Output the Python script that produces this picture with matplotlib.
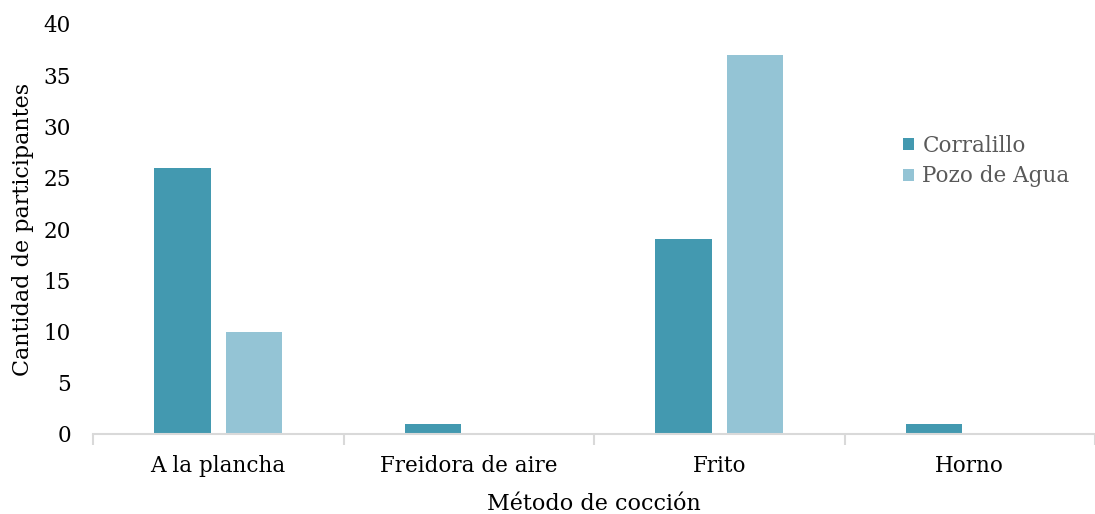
import matplotlib.pyplot as plt
import numpy as np
from matplotlib.patches import Patch

# =============================================================================
# DATA
# =============================================================================
metodos = ['A la plancha', 'Freidora de aire', 'Frito', 'Horno']
series = ['Corralillo', 'Pozo de Agua']
corralillo = [26, 1, 19, 1]
pozo_agua = [10, 0, 37, 0]
y_ticks = [0, 5, 10, 15, 20, 25, 30, 35, 40]

# =============================================================================
# STYLE
# =============================================================================
DARK = '#4399B0'
LIGHT = '#94C4D5'
AXIS_GRAY = '#D9D9D9'
plt.rcParams['font.family'] = 'DejaVu Serif'

fig = plt.figure(figsize=(10.95, 5.14), dpi=100)
ax = fig.add_axes([93 / 1095, 1 - 434 / 514, 1002 / 1095, 410 / 514])

x = np.arange(len(metodos))
bar_w = 0.225
offset = 0.142

ax.bar(x - offset, corralillo, width=bar_w, color=DARK, label=series[0])
ax.bar(x + offset, pozo_agua, width=bar_w, color=LIGHT, label=series[1])

ax.set_xlim(-0.5, -0.5 + 1002 / 253.5)
ax.set_ylim(0, 40)
ax.set_yticks(y_ticks)
ax.tick_params(axis='y', length=0, labelsize=15.5, pad=16)

# category labels centered, ticks at category boundaries
ax.set_xticks(x)
ax.set_xticklabels(metodos, fontsize=15.5)
ax.tick_params(axis='x', which='major', length=0, pad=15)
ax.set_xticks(np.arange(len(metodos) + 1) - 0.5, minor=True)
ax.tick_params(axis='x', which='minor', length=8, width=1.5, color=AXIS_GRAY)

for s in ['top', 'right', 'left']:
    ax.spines[s].set_visible(False)
ax.spines['bottom'].set_color(AXIS_GRAY)
ax.spines['bottom'].set_linewidth(1.5)

ax.set_xlabel('Método de cocción', fontsize=16, labelpad=12)
ax.set_ylabel('Cantidad de participantes', fontsize=16, labelpad=7)

handles = [Patch(facecolor=DARK, label=series[0]),
           Patch(facecolor=LIGHT, label=series[1])]
leg = ax.legend(handles=handles, loc='upper left',
                bbox_to_anchor=(810 / 1002, 0.73),
                frameon=False, fontsize=15.5, handlelength=0.5,
                handleheight=0.5, handletextpad=0.4, labelspacing=0.4,
                borderaxespad=0, borderpad=0)
for t in leg.get_texts():
    t.set_color('#595959')

fig.savefig('out.png', dpi=100)
